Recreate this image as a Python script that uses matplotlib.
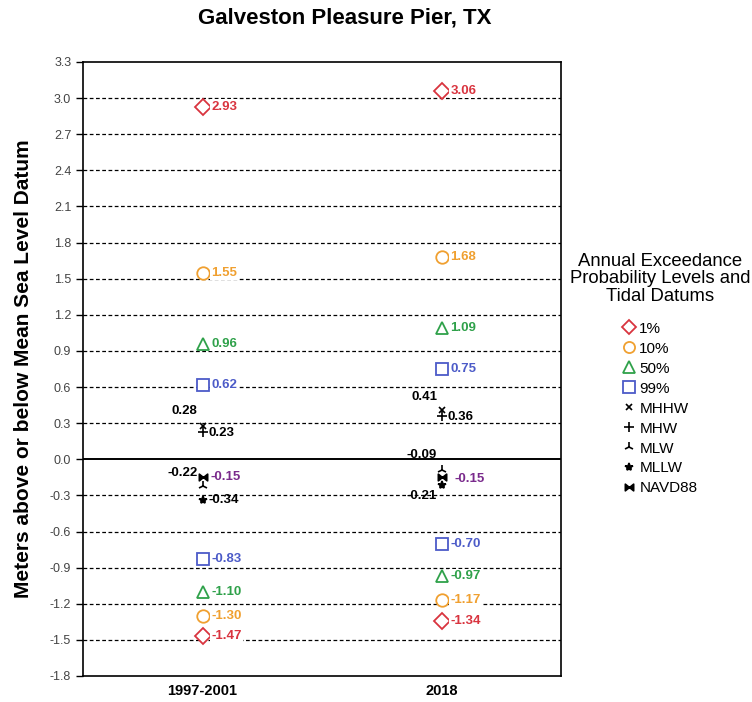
import numpy as np
import matplotlib.pyplot as plt
from matplotlib.lines import Line2D
from matplotlib.path import Path

plt.rcParams["font.family"] = ["Liberation Sans", "DejaVu Sans"]

years = ["1997-2001", "2018"]

aep_names = ["1%", "10%", "50%", "99%"]
aep_high = [[2.93, 3.06], [1.55, 1.68], [0.96, 1.09], [0.62, 0.75]]
aep_low = [[-1.47, -1.34], [-1.30, -1.17], [-1.10, -0.97], [-0.83, -0.70]]

datum_names = ["MHHW", "MHW", "MLW", "MLLW", "NAVD88"]
datum_vals = [[0.28, 0.41], [0.23, 0.36], [-0.22, -0.09], [-0.34, -0.21], [-0.15, -0.15]]

yticks = np.round(np.arange(-1.8, 3.31, 0.3), 1)

# styling
aep_colors = ["#d9343f", "#f0a030", "#2fa14a", "#4c5bc8"]
aep_markers = ["D", "o", "^", "s"]
aep_sizes = [8, 9, 9, 9]
bowtie = Path([(-1, -0.8), (1, 0.8), (1, -0.8), (-1, 0.8), (-1, -0.8)],
              [Path.MOVETO, Path.LINETO, Path.LINETO, Path.LINETO, Path.CLOSEPOLY])
datum_markers = ["x", "+", "2", "*", bowtie]
datum_sizes = [5, 7, 7, 6, 6]
datum_colors = ["black", "black", "black", "black", "#7a2a8c"]
# label offsets in pixels (dx, dy, ha) for each datum and year
datum_offsets = [
    [(-5, 15, "right"), (-4, 13, "right")],
    [(6, -1, "left"), (6, -1, "left")],
    [(-5, 13, "right"), (-5, 15, "right")],
    [(6, 0, "left"), (-5, -11, "right")],
    [(8, 0, "left"), (13, -2, "left")],
]
label_size = 9.5

fig = plt.figure(figsize=(7.52, 7.02), dpi=100)
ax = fig.add_axes([83 / 752, 1 - 676 / 702, 478 / 752, 614 / 702])

xs = np.arange(len(years))

for y in yticks:
    if y == 0:
        ax.axhline(0, color="black", lw=1.4, zorder=1)
    elif -1.8 < y < 3.3:
        ax.axhline(y, color="black", lw=0.9, ls=(0, (3, 2)), zorder=1)

for i, name in enumerate(aep_names):
    for vals in (aep_high[i], aep_low[i]):
        ax.plot(xs, vals, ls="none", marker=aep_markers[i], ms=aep_sizes[i],
                mfc="white", mec=aep_colors[i], mew=1.3, zorder=3)
        for x, v in zip(xs, vals):
            ax.annotate(f"{v:.2f}", (x, v), xytext=(9, 0), textcoords="offset pixels",
                        ha="left", va="center", fontsize=label_size, fontweight="bold",
                        color=aep_colors[i], zorder=4,
                        bbox=dict(boxstyle="square,pad=0.08", fc="white", ec="none"))

for i, name in enumerate(datum_names):
    vals = datum_vals[i]
    ax.plot(xs, vals, ls="none", marker=datum_markers[i], ms=datum_sizes[i],
            color="black", mew=1.2, zorder=3)
    for j, (x, v) in enumerate(zip(xs, vals)):
        dx, dy, ha = datum_offsets[i][j]
        ax.annotate(f"{v:.2f}", (x, v), xytext=(dx, dy), textcoords="offset pixels",
                    ha=ha, va="center", fontsize=label_size, fontweight="bold",
                    color=datum_colors[i], zorder=4)

ax.set_xlim(-0.5, 1.5)
ax.set_ylim(-1.8, 3.3)
ax.set_yticks(yticks)
ax.set_yticklabels([f"{t:.1f}" for t in yticks], fontsize=9, color="#444444")
ax.set_xticks(xs)
ax.set_xticklabels(years, fontsize=10.5, fontweight="bold")
ax.tick_params(axis="y", length=5, width=1, direction="out")
ax.tick_params(axis="x", length=0, pad=6)
for sp in ax.spines.values():
    sp.set_linewidth(1.2)

ax.set_ylabel("Meters above or below Mean Sea Level Datum", fontsize=15,
              fontweight="bold", labelpad=12)
fig.text(345 / 752, 1 - 18 / 702, "Galveston Pleasure Pier, TX", ha="center",
         va="center", fontsize=16, fontweight="bold")

# legend: title drawn separately so the gap under it can be set freely
fig.text(660 / 752, 1 - 279 / 702,
         "Annual Exceedance\nProbability Levels and\nTidal Datums",
         ha="center", va="center", fontsize=13.3, linespacing=1.05)

handles = []
for i, name in enumerate(aep_names):
    handles.append(Line2D([], [], ls="none", marker=aep_markers[i], ms=aep_sizes[i] - 1,
                          mfc="white", mec=aep_colors[i], mew=1.3, label=name))
for i, name in enumerate(datum_names):
    handles.append(Line2D([], [], ls="none", marker=datum_markers[i], ms=datum_sizes[i],
                          color="black", mew=1.2, label=name))

fig.legend(handles=handles, loc="upper center",
           bbox_to_anchor=(660 / 752, 1 - 308 / 702), frameon=False,
           fontsize=11, handlelength=0.8, handletextpad=0.3, labelspacing=0.39)

fig.savefig("out.png", dpi=100)
